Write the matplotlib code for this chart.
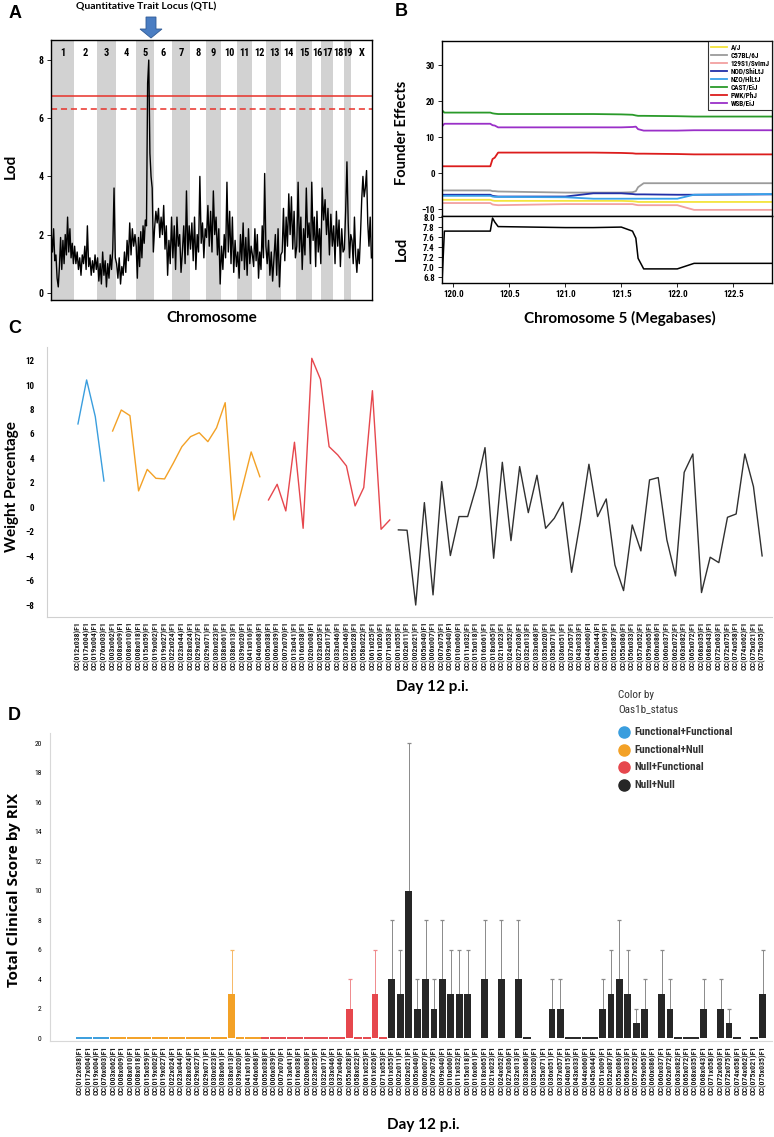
import numpy as np
import matplotlib
matplotlib.use("Agg")
import matplotlib.pyplot as plt
from matplotlib import font_manager as fm
from matplotlib.patches import Polygon
from matplotlib.lines import Line2D

# ------------------------------------------------------------------ data
# Panel A : genome scan
chrom_names = ['1', '2', '3', '4', '5', '6', '7', '8', '9', '10', '11', '12',
               '13', '14', '15', '16', '17', '18', '19', 'X']
chrom_len = [23.3, 23.0, 19.0, 19.7, 18.3, 18.3, 17.7, 16.0, 15.0, 16.3, 14.7,
             14.7, 15.0, 14.6, 16.4, 9.0, 11.6, 10.7, 7.7, 20.6]
lod_chr1 = [2.0, 1.4, 2.2, 1.1, 1.3, 0.5, 0.2, 0.9, 1.9, 0.8, 1.8, 1.0, 2.0, 1.3, 2.6, 1.4, 2.2, 1.2, 1.7, 1.0]
lod_chr2 = [1.6, 1.0, 1.4, 0.8, 1.2, 0.6, 1.3, 1.0, 1.6, 0.8, 2.3, 0.9, 1.2, 0.6, 1.1, 0.7, 1.3, 0.8]
lod_chr3 = [1.2, 0.4, 1.0, 0.3, 1.4, 0.6, 1.1, 0.2, 1.0, 0.5, 1.3, 0.8, 1.5, 3.6, 1.2]
lod_chr4 = [1.0, 0.5, 1.2, 0.3, 0.9, 0.6, 1.4, 0.7, 1.8, 1.1, 2.4, 1.3, 2.2, 1.6, 2.0]
lod_chr5 = [1.6, 0.5, 1.9, 0.9, 2.1, 1.2, 2.3, 1.7, 2.5, 2.3, 7.2, 8.0, 4.8, 4.0, 3.6, 1.4]
lod_chr6 = [2.2, 2.8, 2.4, 2.9, 1.9, 2.6, 2.0, 3.0, 1.5, 2.3, 0.6, 1.8, 1.0, 2.6]
lod_chr7 = [1.2, 2.3, 0.8, 2.6, 1.6, 2.0, 0.7, 1.4, 2.3, 1.0, 3.5, 1.3, 2.3]
lod_chr8 = [1.5, 2.4, 1.1, 2.6, 0.8, 2.0, 1.4, 4.0, 1.7, 2.4, 1.2, 2.2]
lod_chr9 = [1.9, 3.0, 1.6, 2.8, 1.4, 3.5, 2.0, 2.6, 1.3, 2.2, 0.3]
lod_chr10 = [1.6, 0.8, 2.0, 1.2, 3.8, 1.4, 2.8, 1.0, 2.6, 0.7, 1.8, 0.9]
lod_chr11 = [1.4, 0.5, 2.0, 1.1, 2.4, 0.8, 1.9, 0.6, 2.2, 1.0, 1.6]
lod_chr12 = [1.3, 0.9, 2.2, 1.1, 2.0, 0.5, 1.4, 0.8, 2.3, 1.2, 4.1, 1.6]
lod_chr13 = [1.0, 1.8, 0.6, 1.4, 0.4, 1.2, 2.0, 0.6, 2.2, 0.2, 1.3]
lod_chr14 = [1.4, 2.9, 1.1, 2.6, 1.6, 3.4, 2.0, 3.3, 1.5, 2.8, 1.2]
lod_chr15 = [1.6, 3.8, 1.4, 2.6, 0.8, 2.2, 1.3, 3.6, 1.9, 2.4, 1.0, 3.8]
lod_chr16 = [1.8, 2.6, 0.9, 2.8, 1.4, 2.2, 1.0]
lod_chr17 = [3.6, 2.5, 3.2, 2.0, 2.9, 1.3, 2.7, 1.6]
lod_chr18 = [2.3, 1.0, 2.8, 1.6, 2.5, 0.9, 2.2, 1.4]
lod_chr19 = [1.5, 2.8, 4.5, 2.4, 1.2, 2.0]
lod_chrX = [1.8, 1.0, 2.6, 1.3, 0.7, 1.5, 1.0, 2.0, 3.2, 4.0, 3.3, 3.6, 4.2, 2.4, 1.6, 2.6, 1.2]
lod_threshold_solid = 6.76
lod_threshold_dashed = 6.33

# Panel B : founder effects along chr5
founders = ['A/J', 'C57BL/6J', '129S1/SvImJ', 'NOD/ShiLtJ', 'NZO/HlLtJ',
            'CAST/EiJ', 'PWK/PhJ', 'WSB/EiJ']
founder_colors = ['#f4e43c', '#9b9b9b', '#f2a0a0', '#2230a8', '#38a2ea',
                  '#2a9a2a', '#dc1c1c', '#9a30c8']
b_pos = [119.90, 119.92, 120.33, 120.35, 120.37, 120.40, 121.00, 121.25, 121.50,
         121.60, 121.63, 121.65, 121.70, 122.00, 122.15, 122.85]
eff_aj = [-7.4, -7.4, -7.4, -7.6, -7.7, -7.7, -7.7, -7.7, -7.7, -7.8, -7.9, -8.0, -8.0, -8.0, -8.0, -8.0]
eff_b6 = [-4.8, -4.8, -4.8, -5.0, -5.0, -5.1, -5.4, -5.4, -5.4, -5.3, -5.0, -3.9, -2.8, -2.8, -2.8, -2.8]
eff_129 = [-8.3, -8.3, -8.3, -8.7, -8.8, -8.9, -8.6, -8.6, -8.6, -8.6, -8.8, -8.9, -8.9, -8.9, -10.2, -10.2]
eff_nod = [-6.0, -6.0, -6.0, -6.3, -6.4, -6.5, -6.5, -5.6, -5.6, -5.8, -5.9, -5.9, -5.9, -6.0, -6.0, -5.9]
eff_nzo = [-6.3, -6.3, -6.3, -6.5, -6.6, -6.6, -6.7, -7.1, -7.1, -7.1, -7.1, -7.1, -7.1, -7.1, -6.0, -5.8]
eff_cast = [17.4, 16.8, 16.8, 16.6, 16.5, 16.4, 16.4, 16.4, 16.3, 16.2, 16.0, 15.9, 15.9, 15.8, 15.7, 15.7]
eff_pwk = [1.9, 1.9, 1.9, 3.9, 4.3, 5.7, 5.7, 5.7, 5.6, 5.5, 5.4, 5.4, 5.4, 5.3, 5.2, 5.2]
eff_wsb = [13.0, 13.7, 13.7, 13.3, 13.2, 12.7, 12.7, 12.7, 12.7, 12.8, 12.9, 12.2, 11.8, 11.8, 11.9, 11.9]
b_lod = [6.75, 7.72, 7.72, 7.98, 7.90, 7.81, 7.79, 7.79, 7.80, 7.72, 7.58, 7.18, 6.97, 6.97, 7.08, 7.08]

# Panels C / D : RIX lines
rix_labels = [
    "CC(012x038)F1", "CC(017x004)F1", "CC(019x004)F1", "CC(076x003)F1",
    "CC(003x062)F1", "CC(008x009)F1", "CC(008x010)F1", "CC(008x018)F1", "CC(015x059)F1",
    "CC(019x002)F1", "CC(019x027)F1", "CC(022x024)F1", "CC(023x044)F1", "CC(028x024)F1",
    "CC(029x027)F1", "CC(029x071)F1", "CC(030x023)F1", "CC(038x061)F1", "CC(038x013)F1",
    "CC(039x020)F1", "CC(041x016)F1", "CC(046x068)F1",
    "CC(005x038)F1", "CC(006x039)F1", "CC(007x070)F1", "CC(013x041)F1", "CC(016x038)F1",
    "CC(020x008)F1", "CC(023x025)F1", "CC(032x017)F1", "CC(033x046)F1", "CC(037x046)F1",
    "CC(055x028)F1", "CC(058x022)F1", "CC(061x025)F1", "CC(061x026)F1", "CC(071x053)F1",
    "CC(001x055)F1", "CC(002x011)F1", "CC(002x021)F1", "CC(005x040)F1", "CC(006x007)F1",
    "CC(007x075)F1", "CC(009x040)F1", "CC(010x060)F1", "CC(011x032)F1", "CC(015x018)F1",
    "CC(016x061)F1", "CC(018x065)F1", "CC(021x023)F1", "CC(024x052)F1", "CC(027x036)F1",
    "CC(032x013)F1", "CC(033x068)F1", "CC(035x020)F1", "CC(035x071)F1", "CC(036x051)F1",
    "CC(037x057)F1", "CC(040x015)F1", "CC(043x033)F1", "CC(044x060)F1", "CC(045x044)F1",
    "CC(051x009)F1", "CC(052x087)F1", "CC(055x086)F1", "CC(056x033)F1", "CC(057x052)F1",
    "CC(059x065)F1", "CC(060x086)F1", "CC(060x037)F1", "CC(062x072)F1", "CC(063x082)F1",
    "CC(065x072)F1", "CC(068x035)F1", "CC(068x043)F1", "CC(071x058)F1", "CC(072x063)F1",
    "CC(072x075)F1", "CC(074x058)F1", "CC(074x062)F1", "CC(075x021)F1", "CC(075x035)F1"]
status_names = ['Functional+Functional', 'Functional+Null', 'Null+Functional', 'Null+Null']
status_colors = ['#3a9ede', '#f3a126', '#e6474d', '#262626']
d_status_counts = [4, 18, 15, 45]
c_missing = ["CC(040x015)F1", "CC(071x058)F1"]

# Panel C : weight percentage per group
weight_ff = [6.82, 10.42, 7.42, 2.15]
weight_fn = [6.24, 7.96, 7.50, 1.34, 3.10, 2.37, 2.32, 3.60, 4.96, 5.78, 6.10, 5.37,
             6.50, 8.56, -1.04, 1.70, 4.53, 2.50]
weight_nf = [0.60, 1.88, -0.30, 5.32, -1.72, 12.19, 10.47, 4.96, 4.28, 3.38, 0.11,
             1.61, 9.54, -1.80, -1.04]
weight_nn = [-1.85, -1.88, -8.0, 0.38, -7.17, 2.10, -3.95, -0.76, -0.76, 1.69, 4.88,
             -4.17, 3.68, -2.73, 3.33, -0.44, 2.62, -1.72, -0.90, 0.41, -5.32, -1.17,
             3.52, -0.76, 0.68, -4.72, -6.82, -1.45, -3.57, 2.24, 2.43, -2.67, -5.62,
             2.86, 4.36, -6.98, -4.09, -4.53, -0.82, -0.55, 4.36, 1.69, -3.98]

# Panel D : total clinical score (NaN = no bar)
nan = np.nan
score_mean = [0, 0, 0, 0,
              0, 0, 0, 0, 0, 0, 0, 0, 0, 0, 0, 0, 0, 0, 3, 0, 0, 0,
              0, 0, 0, 0, 0, 0, 0, 0, 0, 0, 2, 0, 0, 3, 0,
              4, 3, 10, 2, 4, 2, 4, 3, 3, 3, nan, 4, nan, 4, nan, 4, 0, nan, nan,
              2, 2, 0, 0, 0, 0, 2, 3, 4, 3, 1, 2, nan, 3, 2, 0, 0, 0, 2, nan,
              2, 1, 0, nan, 0, 3]
score_upper = [nan] * 18 + [6] + [nan] * 13 + [4, nan, nan, 6, nan] + \
    [8, 6, 20, 4, 8, 4, 8, 6, 6, 6, nan, 8, nan, 8, nan, 8, nan, nan, nan,
     4, 4, nan, nan, nan, nan, 4, 6, 8, 6, 2, 4, nan, 6, 4, nan, nan, nan, 4, nan,
     4, 2, nan, nan, nan, 6]

# ------------------------------------------------------------------ fonts
def pick(*names):
    for n in names:
        try:
            fm.findfont(fm.FontProperties(family=n), fallback_to_default=False)
            return n
        except Exception:
            pass
    return 'DejaVu Sans'

NARROW = pick('Liberation Sans Narrow', 'Roboto Condensed', 'Liberation Sans')
HEAD = pick('Lato', 'Open Sans', 'DejaVu Sans')
WIDE = pick('Open Sans', 'DejaVu Sans')
ARIAL = pick('Liberation Sans', 'DejaVu Sans')

W, H = 774, 1137
fig = plt.figure(figsize=(W / 100, H / 100), dpi=100)


def fx(x):
    return x / W


def fy(y):
    return 1 - y / H


def add_ax(x0, y0, x1, y1):
    return fig.add_axes([fx(x0), fy(y1), (x1 - x0) / W, (y1 - y0) / H])


# ------------------------------------------------------------------ Panel A
axA = add_ax(50.7, 40, 372, 300)
starts = np.concatenate([[0], np.cumsum(chrom_len)[:-1]])
lod_by_chrom = [lod_chr1, lod_chr2, lod_chr3, lod_chr4, lod_chr5, lod_chr6, lod_chr7,
                lod_chr8, lod_chr9, lod_chr10, lod_chr11, lod_chr12, lod_chr13,
                lod_chr14, lod_chr15, lod_chr16, lod_chr17, lod_chr18, lod_chr19, lod_chrX]
xs, ys = [], []
for s, L, vals in zip(starts, chrom_len, lod_by_chrom):
    n = len(vals)
    xs.extend(s + (np.arange(n) + 0.5) * L / n)
    ys.extend(vals)
for i, (s, L) in enumerate(zip(starts, chrom_len)):
    if i % 2 == 0:
        axA.axvspan(s, s + L, color='#d2d2d2', lw=0, zorder=0)
    axA.text(s + L / 2, 0.95, chrom_names[i], transform=axA.get_xaxis_transform(),
             ha='center', va='center', fontsize=7.5, fontweight='bold', family=NARROW)
axA.plot(xs, ys, color='black', lw=1.0, zorder=3)
axA.axhline(lod_threshold_solid, color='#e8322a', lw=1.1, zorder=2)
axA.axhline(lod_threshold_dashed, color='#e8322a', lw=1.1, ls=(0, (4, 2.5)), zorder=2)
axA.set_xlim(0, sum(chrom_len))
axA.set_ylim(-0.25, 8.69)
axA.set_xticks([])
axA.set_yticks([0, 2, 4, 6, 8])
axA.tick_params(axis='y', length=3, width=0.6, pad=2, labelsize=7)
for t in axA.get_yticklabels():
    t.set_family(NARROW); t.set_fontweight('bold')
for s in axA.spines.values():
    s.set_linewidth(1.0)

fig.text(fx(9), fy(13), 'A', fontsize=13, fontweight='bold', family=ARIAL, ha='left', va='center')
fig.text(fx(146), fy(7), 'Quantitative Trait Locus (QTL)', fontsize=7.5, fontweight='bold',
         family=HEAD, ha='center', va='center')
ax_pts = [(146, 17), (156, 17), (156, 29), (162, 29), (151, 38), (140, 29), (146, 29)]
fig.patches.append(Polygon([(fx(a), fy(b)) for a, b in ax_pts], closed=True,
                           transform=fig.transFigure, facecolor='#4a7dc2',
                           edgecolor='#2f5a95', lw=0.6, figure=fig))
fig.text(fx(11), fy(166), 'Lod', fontsize=11, fontweight='bold', family=HEAD,
         rotation=90, ha='center', va='center')
fig.text(fx(212), fy(318), 'Chromosome', fontsize=11, fontweight='bold', family=HEAD,
         ha='center', va='center')

# ------------------------------------------------------------------ Panel B
axB1 = add_ax(441.7, 40.7, 772, 216)
axB2 = add_ax(441.7, 216, 772, 283)
eff_all = [eff_aj, eff_b6, eff_129, eff_nod, eff_nzo, eff_cast, eff_pwk, eff_wsb]
handles = []
for name, col, vals in zip(founders, founder_colors, eff_all):
    ln, = axB1.plot(b_pos, vals, color=col, lw=1.3, label=name)
    handles.append(ln)
axB1.set_xlim(119.896, 122.846)
axB1.set_ylim(-11.9, 36.75)
axB1.set_yticks([-10, 0, 10, 20, 30])
axB1.set_xticks([])
leg = axB1.legend(handles=handles, loc='upper right', frameon=True,
                  fancybox=False, edgecolor='black', handlelength=2.2,
                  labelspacing=0.0, borderpad=0.35, handletextpad=0.5,
                  borderaxespad=0.0, prop={'family': NARROW, 'weight': 'bold', 'size': 5.2})
leg.get_frame().set_linewidth(0.8)
axB2.plot(b_pos, b_lod, color='black', lw=1.1)
axB2.set_xlim(119.896, 122.846)
axB2.set_ylim(6.69, 8.02)
axB2.set_yticks([6.8, 7.0, 7.2, 7.4, 7.6, 7.8, 8.0])
axB2.set_xticks([120.0, 120.5, 121.0, 121.5, 122.0, 122.5])
for ax in (axB1, axB2):
    ax.tick_params(length=3, width=0.6, pad=2, labelsize=6.5)
    for t in ax.get_yticklabels() + ax.get_xticklabels():
        t.set_family(NARROW); t.set_fontweight('bold')
    for s in ax.spines.values():
        s.set_linewidth(1.0)
axB2.yaxis.set_major_formatter(matplotlib.ticker.FormatStrFormatter('%.1f'))
axB2.xaxis.set_major_formatter(matplotlib.ticker.FormatStrFormatter('%.1f'))
fig.text(fx(395), fy(12), 'B', fontsize=13, fontweight='bold', family=ARIAL, ha='left', va='center')
fig.text(fx(402), fy(133), 'Founder Effects', fontsize=10.5, fontweight='bold', family=HEAD,
         rotation=90, ha='center', va='center')
fig.text(fx(402), fy(249), 'Lod', fontsize=10.5, fontweight='bold', family=HEAD,
         rotation=90, ha='center', va='center')
fig.text(fx(620), fy(318), 'Chromosome 5 (Megabases)', fontsize=11, fontweight='bold',
         family=HEAD, ha='center', va='center')

# ------------------------------------------------------------------ Panel C
c_labels = [l for l in rix_labels if l not in c_missing]
axC = add_ax(46.7, 346.7, 772, 617)
c_groups = [weight_ff, weight_fn, weight_nf, weight_nn]
start = 0
for vals, col in zip(c_groups, status_colors):
    idx = np.arange(start, start + len(vals))
    axC.plot(idx, vals, color=col if col != '#262626' else '#303030', lw=1.0)
    start += len(vals)
axC.set_xlim(-3.61, 80.14)
axC.set_ylim(-8.98, 13.14)
axC.set_yticks(np.arange(-8, 13, 2))
axC.set_xticks(np.arange(len(c_labels)))
axC.set_xticklabels(c_labels, rotation=90, fontsize=5.6, family=NARROW, fontweight='bold',
                    color='#1e1e1e')
for t in axC.get_yticklabels():
    t.set_family(NARROW); t.set_fontweight('bold'); t.set_fontsize(6.5)
axC.tick_params(length=0, pad=3)
axC.tick_params(axis='y', pad=9)
for k in ('top', 'right'):
    axC.spines[k].set_visible(False)
for k in ('left', 'bottom'):
    axC.spines[k].set_color('#d0d0d0'); axC.spines[k].set_linewidth(0.8)
fig.text(fx(8), fy(328), 'C', fontsize=13, fontweight='bold', family=ARIAL, ha='left', va='center')
fig.text(fx(12), fy(487), 'Weight Percentage', fontsize=11, fontweight='bold', family=HEAD,
         rotation=90, ha='center', va='center')
fig.text(fx(432), fy(687), 'Day 12 p.i.', fontsize=11, fontweight='bold', family=HEAD,
         ha='center', va='center')

# ------------------------------------------------------------------ Panel D
axD = add_ax(50, 733, 772, 1041)
cols = []
for c, n in zip(status_colors, d_status_counts):
    cols += [c] * n
err_cols = {'#3a9ede': '#7fc0ea', '#f3a126': '#f6b866', '#e6474d': '#ef8a8d', '#262626': '#8a8a8a'}
xd = np.arange(len(rix_labels))
mean = np.array(score_mean, dtype=float)
upper = np.array(score_upper, dtype=float)
for i in xd:
    if np.isnan(mean[i]):
        continue
    if mean[i] > 0:
        axD.bar(i, mean[i], width=0.82, color=cols[i], zorder=3)
    else:
        axD.plot(i, 0, marker='_', ms=5.5, mew=1.4, color=cols[i], zorder=3)
    if not np.isnan(upper[i]):
        ec = err_cols[cols[i]]
        axD.vlines(i, mean[i], upper[i], color=ec, lw=0.7, zorder=2)
        axD.plot(i, upper[i], marker='_', ms=3.2, mew=0.9, color=ec, zorder=2)
axD.set_xlim(-3.56, 82.1)
axD.set_ylim(-0.2, 20.68)
axD.set_yticks(np.arange(0, 21, 2))
axD.set_xticks(xd)
axD.set_xticklabels(rix_labels, rotation=90, fontsize=5.7, family=NARROW, fontweight='bold',
                    color='#1e1e1e')
for t in axD.get_yticklabels():
    t.set_family(NARROW); t.set_fontsize(5.5)
axD.tick_params(length=0, pad=3)
axD.tick_params(axis='y', pad=6)
for k in ('top', 'right'):
    axD.spines[k].set_visible(False)
for k in ('left', 'bottom'):
    axD.spines[k].set_color('#d8d8d8'); axD.spines[k].set_linewidth(0.8)
fig.text(fx(8), fy(715), 'D', fontsize=13, fontweight='bold', family=ARIAL, ha='left', va='center')
fig.text(fx(14), fy(890), 'Total Clinical Score by RIX', fontsize=11, fontweight='bold',
         family=WIDE, rotation=90, ha='center', va='center')
fig.text(fx(423), fy(1125), 'Day 12 p.i.', fontsize=11, fontweight='bold', family=HEAD,
         ha='center', va='center')

# legend for D
fig.text(fx(618), fy(695), 'Color by', fontsize=8, family=NARROW, color='#333333',
         ha='left', va='center')
fig.text(fx(618), fy(709), 'Oas1b_status', fontsize=8, family=NARROW, color='#333333',
         ha='left', va='center')
for k, (nm, col) in enumerate(zip(status_names, status_colors)):
    yy = 732 + k * 17.7
    fig.add_artist(Line2D([fx(624)], [fy(yy)], marker='o', ms=8, color=col, lw=0,
                          transform=fig.transFigure))
    fig.text(fx(634), fy(yy), nm, fontsize=8, family=NARROW, fontweight='bold',
             color='#333333', ha='left', va='center')

fig.savefig('out.png', dpi=100)
